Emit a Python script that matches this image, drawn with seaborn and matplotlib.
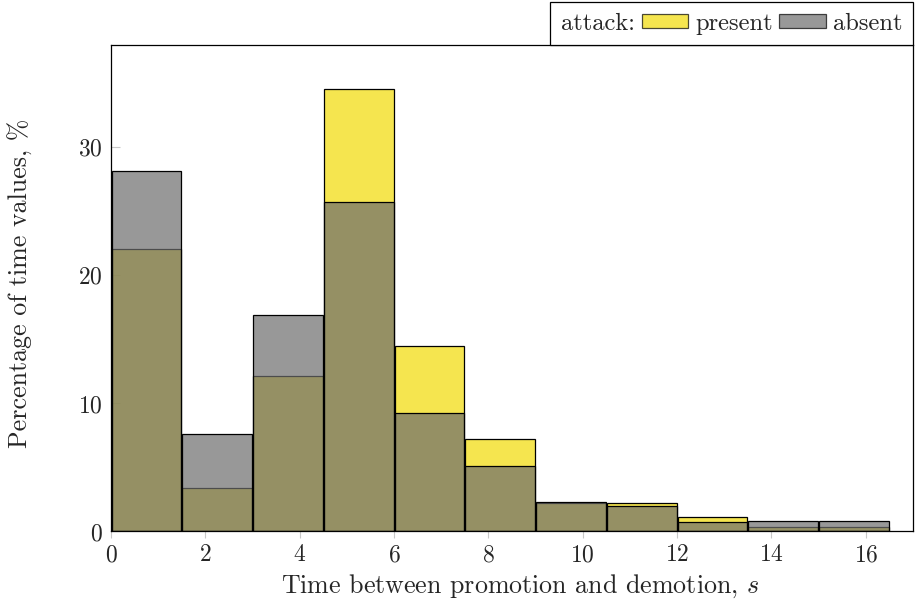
import numpy as np
import pandas as pd
import matplotlib
matplotlib.use("Agg")
import matplotlib.pyplot as plt
import seaborn as sns
from matplotlib.patches import Patch
from matplotlib.offsetbox import HPacker

# histogram data (percent of time values per 1.5 s bin)
bin_edges = [0, 1.5, 3, 4.5, 6, 7.5, 9, 10.5, 12, 13.5, 15, 16.5]
present = [22.07, 3.43, 12.12, 34.55, 14.47, 7.22, 2.25, 2.20, 1.11, 0.38, 0.38]
absent = [28.13, 7.58, 16.90, 25.75, 9.28, 5.10, 2.29, 1.97, 0.77, 0.82, 0.82]
x_ticks = [0, 2, 4, 6, 8, 10, 12, 14, 16]
y_ticks = [0, 10, 20, 30]

sns.set_style("white")
plt.rcParams['font.family'] = ['cmr10', 'DejaVu Serif']
plt.rcParams['mathtext.fontset'] = 'cm'
plt.rcParams['axes.formatter.use_mathtext'] = True

edges = np.array(bin_edges, dtype=float)
centers = (edges[:-1] + edges[1:]) / 2
df_present = pd.DataFrame({'t': centers, 'pct': present})
df_absent = pd.DataFrame({'t': centers, 'pct': absent})

fig = plt.figure(figsize=(9.15, 6.03), dpi=100)
ax = fig.add_axes([0.1213, 0.1186, 0.8765, 0.8068])

yellow = '#f1db05'
grey = '#6d6d6d'
sns.histplot(data=df_present, x='t', weights='pct', bins=list(bin_edges),
             color=yellow, alpha=0.7, edgecolor='black', linewidth=0.9,
             shrink=0.985, ax=ax)
sns.histplot(data=df_absent, x='t', weights='pct', bins=list(bin_edges),
             color=grey, alpha=0.7, edgecolor='black', linewidth=0.9,
             shrink=0.985, ax=ax)

ax.set_xlim(0, 17)
ax.set_ylim(0, 38)
ax.set_xticks(x_ticks)
ax.set_yticks(y_ticks)
fs = 18.7
tfs = 17
lfs = 17.6
ax.tick_params(axis='x', direction='out', length=5, width=0.8, color='#c8c8c8',
               labelsize=tfs, pad=4, bottom=True)
ax.tick_params(axis='y', direction='in', length=6.5, width=0.8, color='#c8c8c8',
               labelsize=tfs, pad=6, left=True)
for s in ax.spines.values():
    s.set_color('black')
    s.set_linewidth(0.9)

ax.set_xlabel('Time between promotion and demotion, $s$', fontsize=fs)
ax.xaxis.set_label_coords(0.51, -0.085)
ax.set_ylabel('Percentage of time values, %', fontsize=fs)
ax.yaxis.set_label_coords(-0.097, 0.51)

handles = [Patch(facecolor=yellow, alpha=0.7, edgecolor='black', linewidth=0.9),
           Patch(facecolor=grey, alpha=0.7, edgecolor='black', linewidth=0.9)]
leg = ax.legend(handles, ['present', 'absent'], ncol=2, title='attack:',
                title_fontsize=lfs, fontsize=lfs, loc='lower right',
                bbox_to_anchor=(1.0, 1.0), borderaxespad=0, frameon=True,
                fancybox=False, edgecolor='black', framealpha=1,
                handlelength=1.9, handleheight=0.55, handletextpad=0.3,
                columnspacing=0.25, borderpad=0.42)
leg.get_frame().set_linewidth(0.9)
# put the legend title on the same row as the entries
fsz = leg._fontsize
box = HPacker(pad=leg.borderpad * fsz, sep=0.3 * fsz, align='center',
              children=[leg._legend_title_box, leg._legend_handle_box])
box.set_figure(fig)
box.axes = ax
box.set_offset(leg._findoffset)
leg._legend_box = box

fig.savefig('out.png', dpi=100)
